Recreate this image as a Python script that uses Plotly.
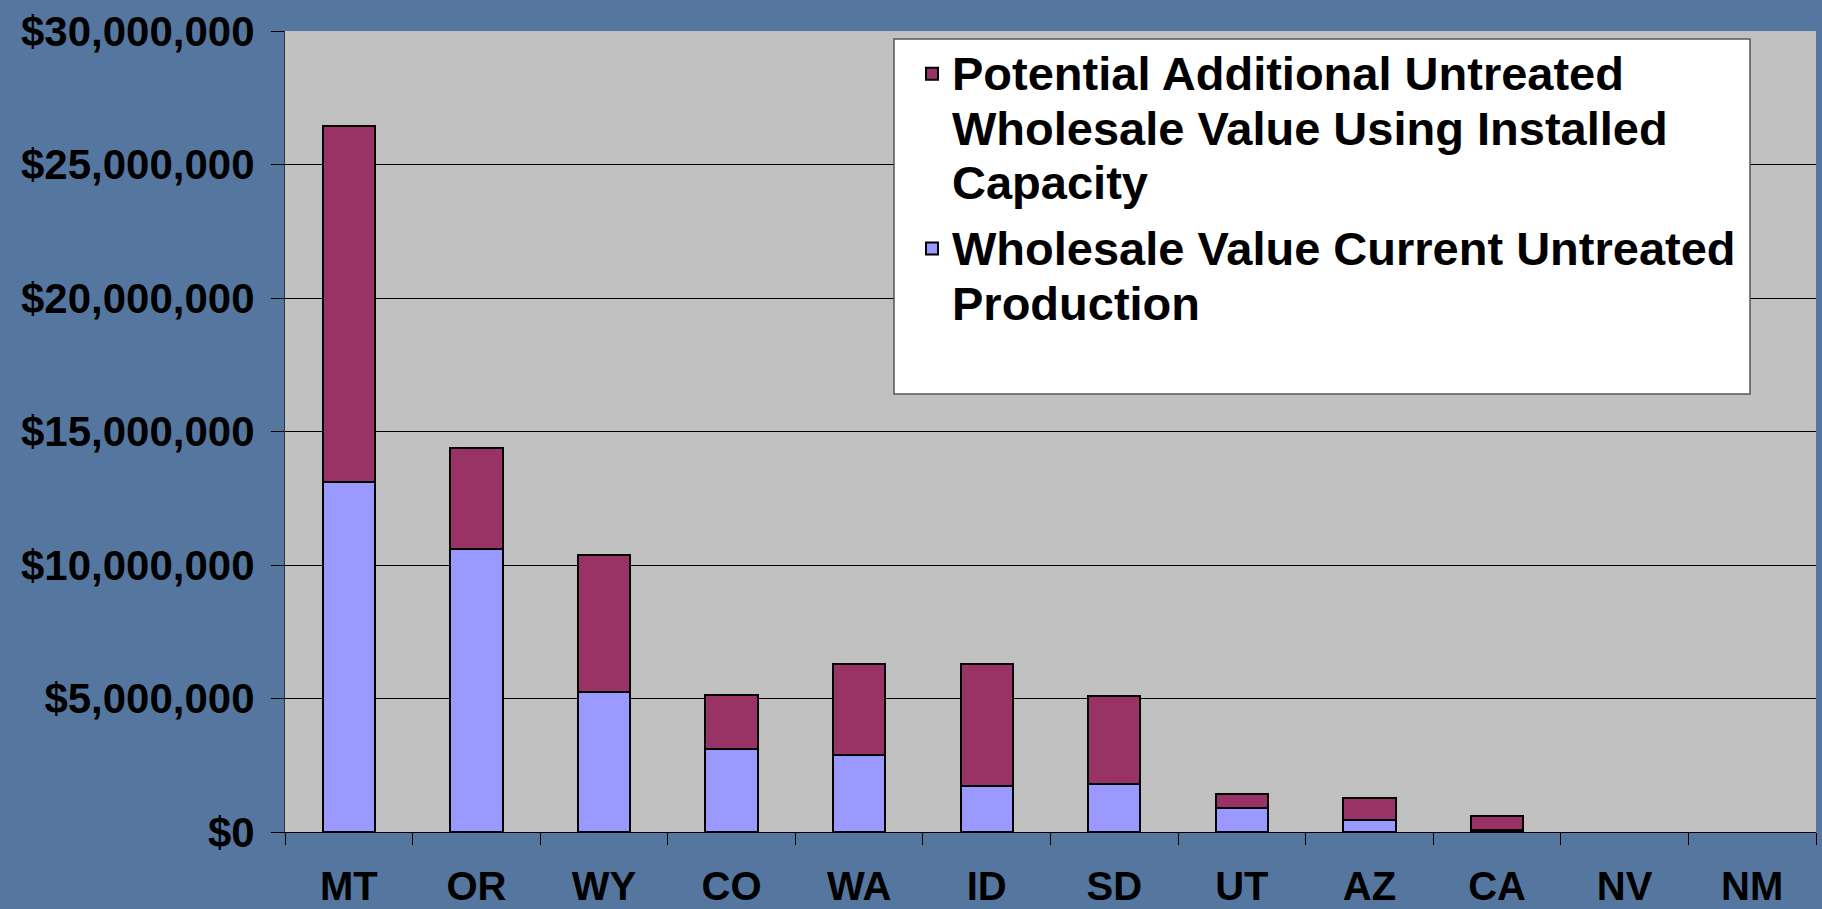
import plotly.graph_objects as go

states = ["MT", "OR", "WY", "CO", "WA", "ID", "SD", "UT", "AZ", "CA", "NV", "NM"]
current_value = [13120000, 10600000, 5250000, 3110000, 2890000, 1720000, 1780000, 900000, 450000, 60000, 0, 0]
additional_value = [13330000, 3770000, 5120000, 2010000, 3410000, 4580000, 3320000, 520000, 830000, 550000, 0, 0]
y_ticks = [0, 5000000, 10000000, 15000000, 20000000, 25000000, 30000000]

lines_current = ["Wholesale Value Current Untreated", "Production"]
lines_additional = ["Potential Additional Untreated", "Wholesale Value Using Installed", "Capacity"]

LEG_SIZE = 47


def legend_label(lines):
    return "<br>".join(f"<span style='font-size:{LEG_SIZE}px'>{t}</span>" for t in lines)


FONT = "Liberation Sans, Arial, sans-serif"

fig = go.Figure()
fig.add_trace(go.Bar(
    x=states, y=current_value, name=legend_label(lines_current),
    legendgroup="cur", legendrank=2,
    marker=dict(color="#9999FF",
                line=dict(color="black", width=[2 if v > 0 else 0 for v in current_value])),
))
fig.add_trace(go.Bar(
    x=states, y=additional_value, name=legend_label(lines_additional),
    legendgroup="add", legendrank=1,
    marker=dict(color="#993366",
                line=dict(color="black", width=[2 if v > 0 else 0 for v in additional_value])),
))

W, H = 1822, 909
ml, mr, mt, mb = 285, 6, 31, 77
pw, ph = W - ml - mr, H - mt - mb


def px_x(x):
    return (x - ml) / pw


def px_y(y):
    return (H - mb - y) / ph


fig.update_layout(
    width=W, height=H,
    autosize=False,
    barmode="stack",
    bargap=0.59,
    paper_bgcolor="#55779f",
    plot_bgcolor="#c0c0c0",
    margin=dict(l=ml, r=mr, t=mt, b=mb, autoexpand=False),
    showlegend=True,
    legend=dict(
        traceorder="grouped",
        x=px_x(912), y=px_y(40), xanchor="left", yanchor="top",
        valign="top",
        bgcolor="rgba(0,0,0,0)", borderwidth=0,
        font=dict(family=FONT, size=42, color="black", weight="bold"),
        tracegroupgap=8,
    ),
    shapes=[dict(
        type="rect", xref="paper", yref="paper",
        x0=px_x(894), x1=px_x(1750), y0=px_y(394), y1=px_y(39),
        fillcolor="white", line=dict(color="#555555", width=1.5), layer="above",
    )],
    xaxis=dict(
        type="category",
        automargin=False,
        tickson="boundaries",
        ticks="outside", ticklen=12, tickcolor="black", tickwidth=1,
        showgrid=False,
        showline=True, linecolor="black", linewidth=1,
        tickfont=dict(family=FONT, size=40, color="black", weight="bold"),
        ticklabelstandoff=19,
    ),
    yaxis=dict(
        range=[0, 30000000],
        automargin=False,
        tickvals=y_ticks,
        tickformat="$,.0f",
        ticks="outside", ticklen=13, tickcolor="black", tickwidth=1,
        showgrid=True, gridcolor="black", gridwidth=1,
        showline=True, linecolor="#333333", linewidth=1,
        zeroline=False,
        tickfont=dict(family=FONT, size=42, color="black", weight="bold"),
        ticklabelstandoff=8,
    ),
)

fig.write_html("out.html")
